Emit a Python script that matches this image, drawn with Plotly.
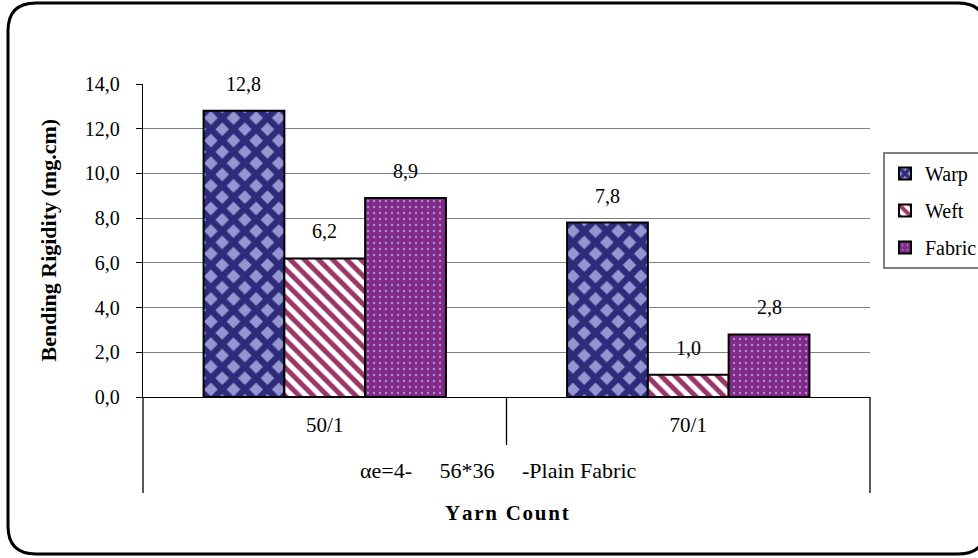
import plotly.graph_objects as go

# ---- data ----
yarn_counts = ["50/1", "70/1"]
series_names = ["Warp", "Weft", "Fabric"]
warp = [12.8, 7.8]
weft = [6.2, 1.0]
fabric = [8.9, 2.8]
y_ticks = [0, 2, 4, 6, 8, 10, 12, 14]
group_label = "\u03b1e=4-" + "\u00a0" * 5 + "56*36" + "\u00a0" * 5 + "-Plain Fabric"
x_title = "Yarn Count"
y_title = "Bending Rigidity (mg.cm)"

# ---- geometry (pixels) ----
W, H = 978, 558
L, R, T, B = 143, 870, 84, 397
PW, PH = R - L, B - T


def px_x(px):
    return (px - L) / PW


def px_y(py):
    return (B - py) / PH


FONT = "Liberation Serif, Times New Roman, serif"
BARGAP = 1 / 3

styles = [
    dict(color="#2E2B7B", pattern=dict(shape="x", fgcolor="#2E2B7B", bgcolor="#9595D2",
                                        size=16, solidity=0.64, fillmode="replace")),
    dict(color="#FFFFFF", pattern=dict(shape="\\", fgcolor="#9B3768", bgcolor="#FFFFFF",
                                        size=10, solidity=0.5, fillmode="replace")),
    dict(color="#7F2A84", pattern=dict(shape=".", fgcolor="#B48AD8", bgcolor="#7F2A84",
                                        size=6, solidity=0.12, fillmode="replace")),
]

fig = go.Figure()
all_values = [warp, weft, fabric]
for k, (name, vals, st) in enumerate(zip(series_names, all_values, styles)):
    fig.add_trace(go.Bar(
        x=yarn_counts, y=vals, name=name, legendgroup=name,
        marker=dict(color=st["color"], pattern=st["pattern"],
                    line=dict(color="black", width=2)),
        hoverinfo="skip",
    ))

# value labels above each bar
n = len(series_names)
bar_w = (1 - BARGAP) / n
annotations = []
for k, vals in enumerate(all_values):
    off = (k - (n - 1) / 2) * bar_w
    for i, v in enumerate(vals):
        annotations.append(dict(
            x=i + off, y=v, xref="x", yref="y",
            text=f"{v:.1f}".replace(".", ","), showarrow=False,
            yanchor="middle", yshift=27,
            font=dict(family=FONT, size=20, color="black"),
        ))

# grouping label and axis titles
annotations.append(dict(x=px_x(498), y=px_y(485), xref="paper", yref="paper", text=group_label,
                        showarrow=False, font=dict(family=FONT, size=22, color="black")))
spaced = "\u200a".join(x_title)
annotations.append(dict(x=0.5, y=px_y(527), xref="paper", yref="paper",
                        text=f"<b>{spaced}</b>",
                        showarrow=False, font=dict(family=FONT, size=21, color="black")))
annotations.append(dict(x=px_x(33), y=px_y(240), xref="paper", yref="paper",
                        text=f"<b>{y_title}</b>", textangle=-90,
                        showarrow=False, font=dict(family=FONT, size=22, color="black")))

shapes = []
# category dividers below the axis
for xp, yb in [(0, 493), (0.5, 445), (1, 493)]:
    shapes.append(dict(type="line", xref="paper", yref="paper", x0=xp, x1=xp,
                       y0=0, y1=px_y(yb), line=dict(color="black", width=1.3)))

# rounded outer frame
x0, y0, x1, y1, r = 8, 3, 986, 554, 28
pts = [
    ("M", x0 + r, y0), ("L", x1 - r, y0), ("Q", x1, y0, x1, y0 + r),
    ("L", x1, y1 - r), ("Q", x1, y1, x1 - r, y1), ("L", x0 + r, y1),
    ("Q", x0, y1, x0, y1 - r), ("L", x0, y0 + r), ("Q", x0, y0, x0 + r, y0),
]
path = ""
for p in pts:
    cmd, coords = p[0], p[1:]
    conv = []
    for j in range(0, len(coords), 2):
        conv.append(f"{px_x(coords[j]):.5f},{px_y(coords[j + 1]):.5f}")
    path += cmd + " ".join(conv) + " "
shapes.append(dict(type="path", xref="paper", yref="paper", path=path + "Z",
                   line=dict(color="black", width=3), layer="below"))

fig.update_layout(
    width=W, height=H,
    margin=dict(l=L, r=W - R, t=T, b=H - B, pad=0, autoexpand=False),
    paper_bgcolor="white", plot_bgcolor="white",
    separators=",.",
    barmode="group", bargap=BARGAP, bargroupgap=0,
    font=dict(family=FONT, size=20, color="black"),
    showlegend=True,
    legend=dict(
        x=px_x(883), y=px_y(152), xanchor="left", yanchor="top",
        bordercolor="#808080", borderwidth=2, bgcolor="white",
        font=dict(family=FONT, size=20, color="black"),
        tracegroupgap=8, traceorder="grouped",
    ),
    xaxis=dict(
        type="category", showline=True, linecolor="black", linewidth=1.3,
        ticks="", showgrid=False, tickfont=dict(family=FONT, size=21),
        ticklabelstandoff=9, fixedrange=True,
    ),
    yaxis=dict(
        range=[0, 14], tickvals=y_ticks, tickformat=".1f",
        showline=True, linecolor="black", linewidth=1.3,
        ticks="outside", ticklen=6, tickcolor="black", tickwidth=1.3,
        showgrid=True, gridcolor="#808080", gridwidth=1.3, zeroline=False,
        tickfont=dict(family=FONT, size=20), ticklabelstandoff=12, fixedrange=True,
    ),
    annotations=annotations,
    shapes=shapes,
)

fig.write_html("out.html")
